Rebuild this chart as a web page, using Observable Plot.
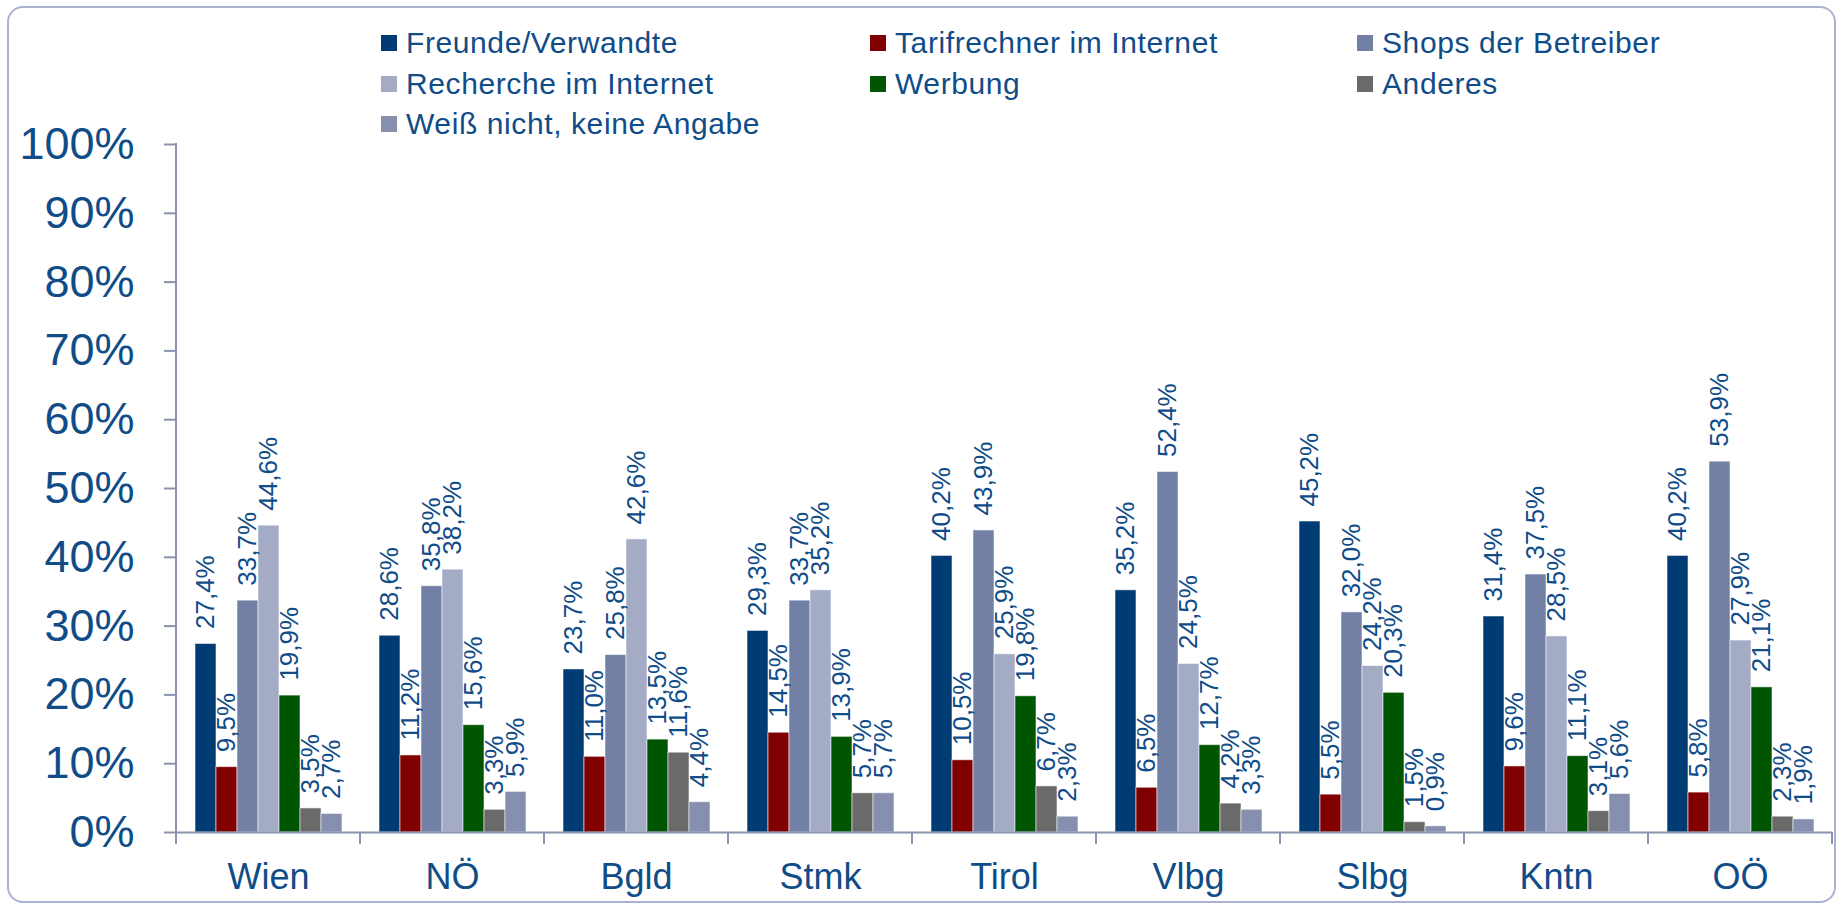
<!DOCTYPE html>
<html>
<head>
<meta charset="utf-8">
<script src="https://cdn.jsdelivr.net/npm/d3@7"></script>
<script src="https://cdn.jsdelivr.net/npm/@observablehq/plot@0.6"></script>
<style>
  html, body { margin: 0; padding: 0; background: #ffffff; }
  #wrap { position: relative; width: 1841px; height: 907px; overflow: hidden;
          font-family: "Liberation Sans", Arial, sans-serif; background: #ffffff; }
  #frame { position: absolute; left: 7px; top: 6px; width: 1829px; height: 897px;
           box-sizing: border-box; border: 2px solid #aab1d3; border-radius: 16px; }
  #chart { position: absolute; left: 0; top: 0; }
  .lg { position: absolute; display: flex; align-items: center; white-space: nowrap;
        font-size: 30px; letter-spacing: 0.6px; color: #104c88; height: 36px; line-height: 36px; }
  .lg .sw { width: 16px; height: 16px; margin-right: 9px; flex: none; }
  #chart svg [aria-label^="y-axis"] text { font-size: 45px; fill: #104c88; }
  #chart svg [aria-label^="fx-axis"] text { font-size: 36px; fill: #104c88; }
  #chart svg [aria-label^="y-axis"] line,
  #chart svg [aria-label^="y-axis"] path { stroke-width: 2px; }
</style>
</head>
<body>
<div id="wrap">
  <div id="frame"></div>
  <div id="chart"></div>
</div>
<script>
const regions = ["Wien", "NÖ", "Bgld", "Stmk", "Tirol", "Vlbg", "Slbg", "Kntn", "OÖ"];
const series = ["Freunde/Verwandte", "Tarifrechner im Internet", "Shops der Betreiber",
                "Recherche im Internet", "Werbung", "Anderes", "Weiß nicht, keine Angabe"];
const freunde      = [27.4, 28.6, 23.7, 29.3, 40.2, 35.2, 45.2, 31.4, 40.2];
const tarifrechner = [ 9.5, 11.2, 11.0, 14.5, 10.5,  6.5,  5.5,  9.6,  5.8];
const shops        = [33.7, 35.8, 25.8, 33.7, 43.9, 52.4, 32.0, 37.5, 53.9];
const recherche    = [44.6, 38.2, 42.6, 35.2, 25.9, 24.5, 24.2, 28.5, 27.9];
const werbung      = [19.9, 15.6, 13.5, 13.9, 19.8, 12.7, 20.3, 11.1, 21.1];
const anderes      = [ 3.5,  3.3, 11.6,  5.7,  6.7,  4.2,  1.5,  3.1,  2.3];
const weissNicht   = [ 2.7,  5.9,  4.4,  5.7,  2.3,  3.3,  0.9,  5.6,  1.9];
const colors = ["#003b74", "#800000", "#7380a6", "#a3abc5", "#005500", "#6a6a6a", "#8690ae"];
const yTicks = [0, 10, 20, 30, 40, 50, 60, 70, 80, 90, 100];

const values = [freunde, tarifrechner, shops, recherche, werbung, anderes, weissNicht];
const table = [];
regions.forEach((r, j) => series.forEach((s, i) => table.push({region: r, series: s, value: values[i][j]})));

const textColor = "#104c88";
const axisColor = "#8a92b0";
const fmt = v => v.toFixed(1).replace(".", ",") + "%";

const plot = Plot.plot({
  width: 1841,
  height: 907,
  marginLeft: 174,
  marginRight: 7,
  marginTop: 144,
  marginBottom: 75,
  style: {fontFamily: '"Liberation Sans", Arial, sans-serif', color: axisColor, background: "transparent", overflow: "visible"},
  facet: {data: table, x: "region"},
  fx: {domain: regions, padding: 0, axis: "bottom", label: null, tickSize: 0, tickPadding: 31},
  x: {domain: series, axis: null, paddingInner: 0, paddingOuter: 0.75},
  y: {domain: [0, 100], ticks: yTicks, tickFormat: d => d + "%", tickSize: 12, tickPadding: 30, label: null},
  color: {domain: series, range: colors},
  marks: [
    Plot.barY(table, {x: "series", y: "value", fill: "series", stroke: "#ffffff", strokeOpacity: 0.55, strokeWidth: 1}),
    Plot.ruleY([0], {stroke: axisColor, strokeWidth: 2}),
    Plot.text(table, {x: "series", y: "value", text: d => fmt(d.value), rotate: -90, textAnchor: "start",
                      dy: -15, fontSize: 26, fill: textColor})
  ]
});
document.getElementById("chart").appendChild(plot);

// axis line and group separators, placed with the plot's own scales
try {
  const svgEl = plot.tagName.toLowerCase() === "svg" ? plot : plot.querySelector("svg");
  const svg = d3.select(svgEl);
  const fx = plot.scale("fx"), y = plot.scale("y");
  const y0 = y.apply(0), y100 = y.apply(100);
  const x0 = fx.apply(regions[0]);
  const g = svg.append("g").attr("stroke", axisColor).attr("stroke-width", 2);
  g.append("line").attr("x1", x0).attr("x2", x0).attr("y1", y100 - 1).attr("y2", y0 + 12);
  const edges = regions.map(r => fx.apply(r)).concat([fx.apply(regions[regions.length - 1]) + fx.bandwidth]);
  edges.forEach(e => g.append("line").attr("x1", e).attr("x2", e).attr("y1", y0).attr("y2", y0 + 12));
} catch (e) { console.error(e); }

// legend
const legendCols = [381, 870, 1357];
const legendRows = [43, 84, 124];
const wrap = document.getElementById("wrap");
series.forEach((s, i) => {
  const d = document.createElement("div");
  d.className = "lg";
  d.style.left = legendCols[i % 3] + "px";
  d.style.top = (legendRows[Math.floor(i / 3)] - 18) + "px";
  const sw = document.createElement("span");
  sw.className = "sw";
  sw.style.background = colors[i];
  d.appendChild(sw);
  d.appendChild(document.createTextNode(s));
  wrap.appendChild(d);
});
</script>
</body>
</html>
